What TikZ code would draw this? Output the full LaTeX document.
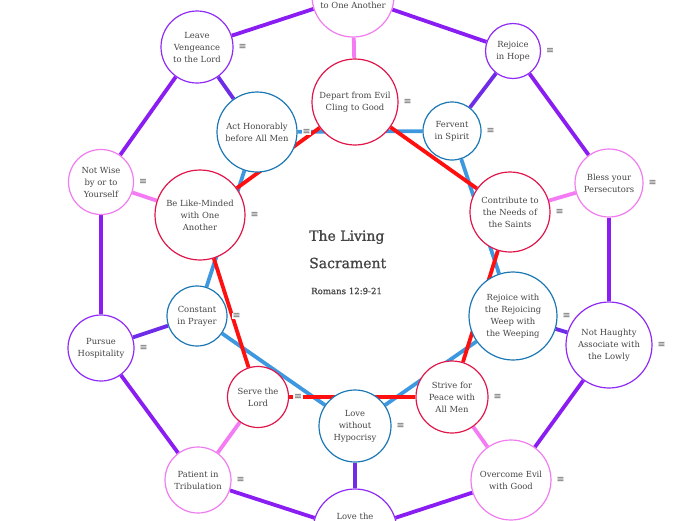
\documentclass[tikz,border=0pt]{standalone}
\usepackage{fontspec}
\setmainfont{DejaVu Serif}
\newfontfamily\iconfont{DejaVu Sans}
\newfontfamily\titlefont[FakeBold=1.2]{DejaVu Serif}
\newfontfamily\subfont[FakeBold=0.8]{DejaVu Serif}
\usetikzlibrary{backgrounds}
\definecolor{txt}{HTML}{454545}
\definecolor{purpN}{HTML}{8F2BF5}
\definecolor{purpL}{HTML}{8A1EF2}
\definecolor{purpB}{HTML}{6E2BE8}
\definecolor{pinkN}{HTML}{F07CF0}
\definecolor{pinkL}{HTML}{F57BF5}
\definecolor{redN}{HTML}{E0174A}
\definecolor{redL}{HTML}{FF1010}
\definecolor{blueN}{HTML}{1B78B4}
\definecolor{blueL}{HTML}{3E98E0}
\definecolor{iconc}{HTML}{5E5E5E}
\begin{document}
\begin{tikzpicture}[x=1pt,y=-1pt,
  base/.style={circle, draw, fill=white, line width=1.2pt, align=center, text=txt,
    font=\fontsize{8.4}{12}\selectfont, inner sep=0pt},
  pnode/.style={base, draw=purpN},
  knode/.style={base, draw=pinkN},
  rnode/.style={base, draw=redN},
  bnode/.style={base, draw=blueN},
  icon/.style={fill=white, inner sep=0.8pt, text=iconc, font=\iconfont\fontsize{9.5}{9.5}\selectfont},
  plain/.style={text=txt, font=\fontsize{8.4}{12}\selectfont, inner sep=0pt},
  pline/.style={draw=purpL, line width=3.8pt},
  bpline/.style={draw=purpB, line width=3.8pt},
  kline/.style={draw=pinkL, line width=3.8pt},
  rline/.style={draw=redL, line width=3.8pt},
  bline/.style={draw=blueL, line width=3.8pt}]
\useasboundingbox (0,0) rectangle (696,520);

% outer ring
\node[knode, minimum size=82pt] (top) at (353,-4) {};
\node[plain] (toptext) at (353,5) {to One Another};
\node[pnode, minimum size=55pt] (hope) at (513,51) {Rejoice\\in Hope};
\node[knode, minimum size=68pt] (bless) at (609,183) {Bless your\\Persecutors};
\node[pnode, minimum size=86pt] (haughty) at (609,345) {Not Haughty\\Associate with\\the Lowly};
\node[knode, minimum size=80pt] (overcome) at (511,480) {Overcome Evil\\with Good};
\node[pnode, minimum size=84pt] (bottom) at (355,531) {};
\node[plain] (bottomtext) at (355,516.5) {Love the};
\node[knode, minimum size=66pt] (patient) at (198,480) {Patient in\\Tribulation};
\node[pnode, minimum size=66pt] (pursue) at (101,348) {Pursue\\Hospitality};
\node[knode, minimum size=65pt] (wise) at (101,182) {Not Wise\\by or to\\Yourself};
\node[pnode, minimum size=72pt] (vengeance) at (197,47) {Leave\\Vengeance\\to the Lord};

% inner ring
\node[rnode, minimum size=86pt] (depart) at (355,102) {Depart from Evil\\Cling to Good};
\node[bnode, minimum size=58pt] (fervent) at (452,131) {Fervent\\in Spirit};
\node[rnode, minimum size=80pt] (contribute) at (510,212) {Contribute to\\the Needs of\\the Saints};
\node[bnode, minimum size=88pt] (rejoicew) at (513,316) {Rejoice with\\the Rejoicing\\Weep with\\the Weeping};
\node[rnode, minimum size=72pt] (strive) at (452,397) {Strive for\\Peace with\\All Men};
\node[bnode, minimum size=72pt] (love) at (355,426) {Love\\without\\Hypocrisy};
\node[rnode, minimum size=61pt] (serve) at (258,397) {Serve the\\Lord};
\node[bnode, minimum size=60pt] (constant) at (197,316) {Constant\\in Prayer};
\node[rnode, minimum size=90pt] (like) at (200,215) {Be Like-Minded\\with One\\Another};
\node[bnode, minimum size=80pt] (act) at (257,132) {Act Honorably\\before All Men};

% icons
\foreach \n in {top,hope,bless,haughty,overcome,patient,pursue,wise,vengeance,
  depart,fervent,contribute,rejoicew,strive,love,serve,constant,like,act}
  \node[icon] (icon-\n) at ([xshift=9pt]\n.east) {≡};

% title
\node[anchor=west, text=txt, font=\titlefont\fontsize{14}{14}\selectfont, inner sep=0pt] (title1) at (309,237) {The Living};
\node[anchor=west, text=txt, font=\titlefont\fontsize{14}{14}\selectfont, inner sep=0pt] (title2) at (309,263) {Sacrament};
\node[anchor=west, text=txt, font=\subfont\fontsize{8.6}{10}\selectfont, inner sep=0pt] (title3) at (311,291) {Romans 12:9-21};

\begin{scope}[on background layer]
  % outer purple
  \draw[pline] (top) -- (hope);
  \draw[pline] (top) -- (vengeance);
  \draw[pline] (hope) -- (bless);
  \draw[pline] (bless) -- (haughty);
  \draw[pline] (haughty) -- (overcome);
  \draw[pline] (overcome) -- (bottom);
  \draw[pline] (bottom) -- (patient);
  \draw[pline] (patient) -- (pursue);
  \draw[pline] (pursue) -- (wise);
  \draw[pline] (wise) -- (vengeance);
  % purple spokes to blue nodes
  \draw[bpline] (hope) -- (fervent);
  \draw[bpline] (haughty) -- (rejoicew);
  \draw[bpline] (bottom) -- (love);
  \draw[bpline] (pursue) -- (constant);
  \draw[bpline] (vengeance) -- (act);
  % pink spokes to red nodes
  \draw[kline] (top) -- (depart);
  \draw[kline] (bless) -- (contribute);
  \draw[kline] (overcome) -- (strive);
  \draw[kline] (patient) -- (serve);
  \draw[kline] (wise) -- (like);
  % blue pentagon
  \draw[bline] (act) -- (fervent);
  \draw[bline] (fervent) -- (rejoicew);
  \draw[bline] (rejoicew) -- (love);
  \draw[bline] (love) -- (constant);
  \draw[bline] (constant) -- (act);
  % red pentagon
  \draw[rline] (depart) -- (contribute);
  \draw[rline] (contribute) -- (strive);
  \draw[rline] (strive) -- (serve);
  \draw[rline] (serve) -- (like);
  \draw[rline] (like) -- (depart);
\end{scope}
\end{tikzpicture}
\end{document}
